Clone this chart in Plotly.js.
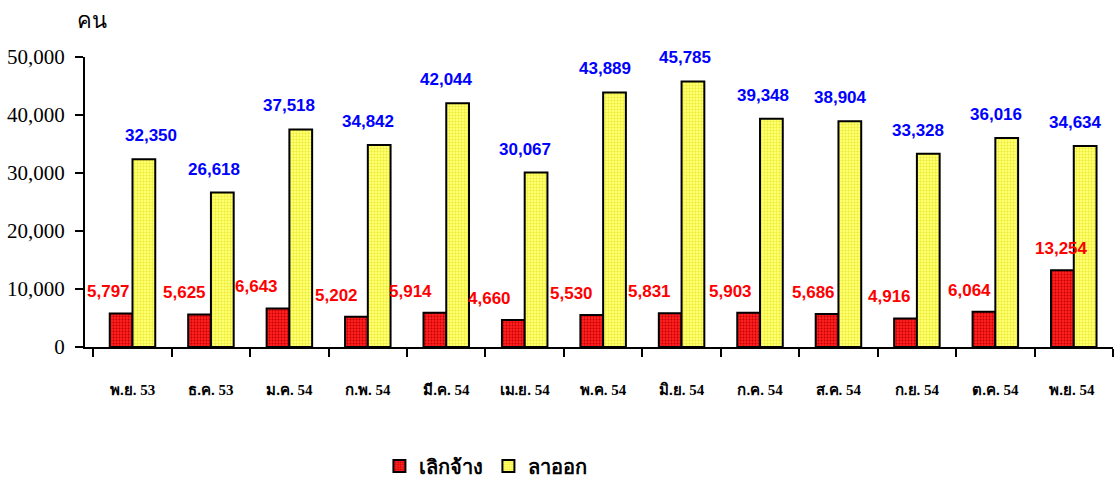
<!DOCTYPE html>
<html><head><meta charset="utf-8">
<script src="https://cdn.plot.ly/plotly-3.0.1.min.js"></script>
<style>html,body{margin:0;padding:0;background:#fff}#chart{width:1120px;height:480px}</style>
</head><body><div id="chart"></div>
<script>
const categories = ['พ.ย. 53','ธ.ค. 53','ม.ค. 54','ก.พ. 54','มี.ค. 54','เม.ย. 54','พ.ค. 54','มิ.ย. 54','ก.ค. 54','ส.ค. 54','ก.ย. 54','ต.ค. 54','พ.ย. 54 '];
const laidOff = [5797,5625,6643,5202,5914,4660,5530,5831,5903,5686,4916,6064,13254];
const resigned = [32350,26618,37518,34842,42044,30067,43889,45785,39348,38904,33328,36016,34634];
const seriesNames = ['เลิกจ้าง','ลาออก'];
const yTicks = [0,10000,20000,30000,40000,50000];

// label pixel offsets (style only)
const redShift = [-24,-26,-33,-31,-36,-35,-32,-32,-30,-25,-27,-26,-12];
const blueShift = [18,3,0,0,0,0,2,3,3,2,1,1,2];

const serif = 'Liberation Serif, "Times New Roman", serif';
const sans = 'Liberation Sans, Arial, sans-serif';

const traces = [
  {type:'bar', x:categories, y:laidOff, name:seriesNames[0],
   marker:{color:'#ff1010', line:{color:'#000', width:2},
     pattern:{shape:'.', fgcolor:'#c00000', bgcolor:'#ff2020', size:3, solidity:0.3}},
   hoverinfo:'skip'},
  {type:'bar', x:categories, y:resigned, name:seriesNames[1],
   marker:{color:'#ffff60', line:{color:'#000', width:2},
     pattern:{shape:'+', fgcolor:'#e8e830', bgcolor:'#ffff70', size:3, solidity:0.3}},
   hoverinfo:'skip'}
];

const annotations = [];
categories.forEach((c,i)=>{
  annotations.push({x:c, y:laidOff[i], xref:'x', yref:'y', text:laidOff[i].toLocaleString('en-US'),
    showarrow:false, xshift:redShift[i], yshift:10, yanchor:'bottom',
    font:{family:sans, size:17, color:'#ff0000', weight:'bold'}});
  annotations.push({x:c, y:resigned[i], xref:'x', yref:'y', text:resigned[i].toLocaleString('en-US'),
    showarrow:false, xshift:blueShift[i], yshift:12, yanchor:'bottom',
    font:{family:sans, size:17, color:'#0000ff', weight:'bold'}});
});
annotations.push({x:-0.01, y:1.176, xref:'paper', yref:'paper', xanchor:'left', yanchor:'top',
  text:'คน', showarrow:false, font:{family:serif, size:22, color:'#000'}});

const layout = {
  width:1120, height:480,
  margin:{l:85, r:7, t:57, b:133, autoexpand:false},
  paper_bgcolor:'#fff', plot_bgcolor:'#fff',
  barmode:'group', bargap:0.42, bargroupgap:0,
  showlegend:true,
  legend:{orientation:'h', x:0.39, xanchor:'center', y:-0.41, yanchor:'middle',
    font:{family:serif, size:20, color:'#000', weight:'bold'}, traceorder:'normal'},
  xaxis:{type:'category', automargin:false, showline:true, linecolor:'#000', linewidth:2,
    ticks:'outside', ticklen:8, tickwidth:2, tickcolor:'#000', tickson:'boundaries',
    ticklabelstandoff:28, showgrid:false, zeroline:false,
    tickfont:{family:serif, size:15, color:'#000', weight:'bold'}},
  yaxis:{range:[0,50000], automargin:false, tickvals:yTicks, ticktext:yTicks.map(v=>v.toLocaleString('en-US')),
    showline:true, linecolor:'#000', linewidth:2, ticks:'outside', ticklen:8, tickwidth:2, tickcolor:'#000',
    showgrid:false, zeroline:false, ticklabelstandoff:6,
    tickfont:{family:serif, size:21, color:'#000'}},
  annotations:annotations
};
Plotly.newPlot('chart', traces, layout, {staticPlot:true});
</script></body></html>
